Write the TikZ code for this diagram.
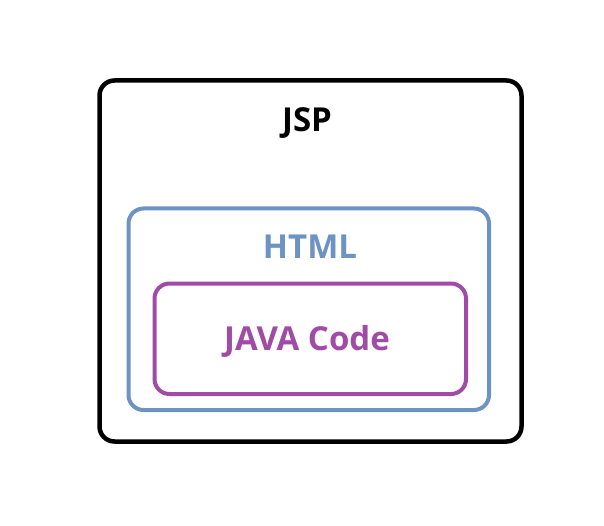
\documentclass[tikz,border=0pt]{standalone}
\usepackage{fontspec}
\setmainfont{Open Sans}
\definecolor{htmlblue}{HTML}{6C93C2}
\definecolor{javapurple}{HTML}{A04BA6}
\begin{document}
\begin{tikzpicture}[x=1pt, y=-1pt,
				box/.style = {line width=4.5pt, rounded corners=15pt},
				label/.style = {font=\bfseries\fontsize{33}{36}\selectfont, inner sep=0pt}
			]
			\useasboundingbox (0,0) rectangle (604,526);
			% outer frame
			\draw[box, black] (99.5,80.5) rectangle (521.5,441.5);
			\node[label, black] (jsp) at (307,123) {JSP};
			% html
			\draw[box, htmlblue, line width=4pt] (128.5,208.5) rectangle (489,410);
			\node[label, htmlblue] (html) at (310,247) {HTML};
			% java
			\draw[box, javapurple, line width=4pt] (154.5,283.5) rectangle (466,394);
			\node[label, javapurple] (java) at (307,341) {JAVA Code};
		\end{tikzpicture}
\end{document}
